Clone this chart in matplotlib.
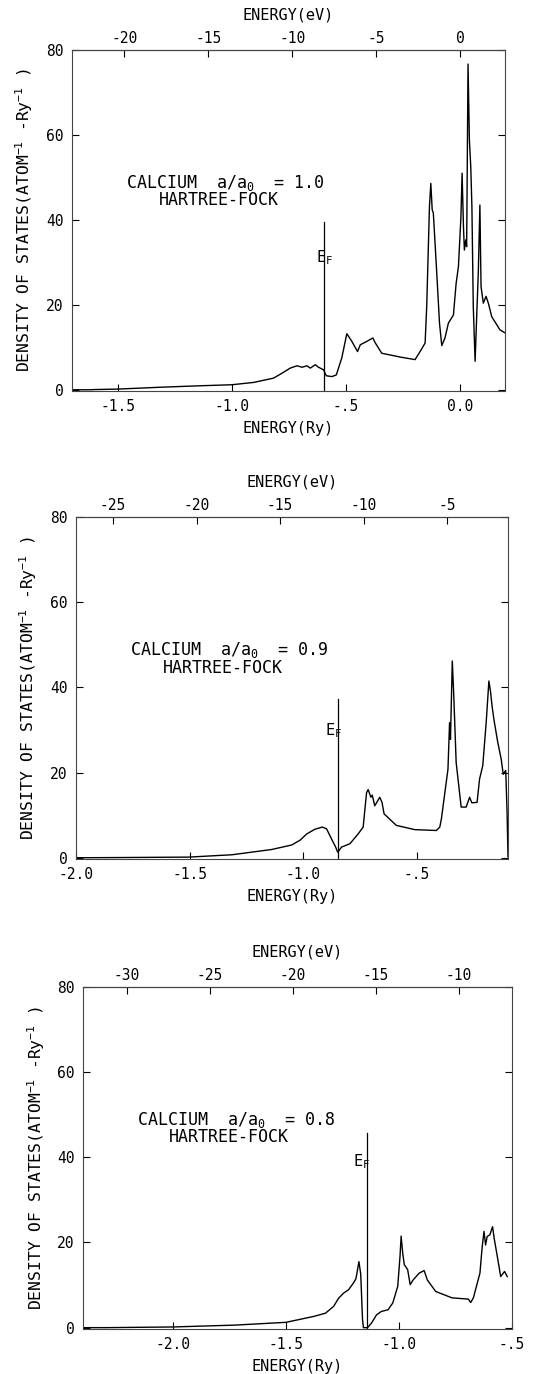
import matplotlib
matplotlib.use("Agg")
import matplotlib.pyplot as plt

plt.rcParams["font.family"] = ["DejaVu Sans Mono"]
plt.rcParams["mathtext.fontset"] = "custom"
plt.rcParams["mathtext.rm"] = "DejaVu Sans Mono"
plt.rcParams["mathtext.it"] = "DejaVu Sans Mono"

RY_TO_EV = 13.6057

# density of states, a/a0 = 1.0
e_10 = [-1.70, -1.62, -1.60, -1.50, -1.31, -1.14, -1.00, -0.904, -0.817, -0.78,
        -0.744, -0.714, -0.692, -0.671, -0.656, -0.634, -0.62, -0.598, -0.586,
        -0.561, -0.542, -0.518, -0.496, -0.474, -0.449, -0.437, -0.408, -0.382,
        -0.372, -0.343, -0.262, -0.197, -0.175, -0.153, -0.146, -0.134, -0.128,
        -0.122, -0.117, -0.102, -0.090, -0.080, -0.066, -0.051, -0.029, -0.017,
        -0.007, 0.004, 0.009, 0.015, 0.019, 0.025, 0.029, 0.035, 0.041, 0.047,
        0.052, 0.058, 0.066, 0.073, 0.080, 0.087, 0.092, 0.102, 0.114, 0.124,
        0.139, 0.175, 0.197]
d_10 = [0.0, 0.0, 0.05, 0.16, 0.6, 0.94, 1.18, 1.73, 2.74, 3.9,
        5.1, 5.65, 5.3, 5.65, 5.1, 5.9, 5.3, 4.7, 3.3,
        3.1, 3.5, 7.5, 13.2, 11.4, 9.0, 10.6, 11.4, 12.2,
        11.1, 8.6, 7.7, 7.1, 9.0, 11.0, 19.6, 43.1, 48.6,
        42.4, 41.6, 27.5, 15.7, 10.4, 12.2, 15.7, 17.6, 25.1,
        29.0, 40.8, 51.0, 38.4, 32.9, 35.3, 33.7, 76.7, 58.8, 52.5,
        43.1, 19.6, 6.7, 17.3, 27.5, 43.5, 24.3, 20.4, 22.0, 20.4,
        17.2, 14.1, 13.4]

# density of states, a/a0 = 0.9
e_09 = [-2.0, -1.987, -1.80, -1.504, -1.314, -1.139, -1.051, -1.015, -0.985,
        -0.949, -0.917, -0.898, -0.876, -0.858, -0.849, -0.832, -0.795, -0.759,
        -0.737, -0.722, -0.715, -0.703, -0.697, -0.686, -0.664, -0.654, -0.645,
        -0.591, -0.510, -0.415, -0.400, -0.393, -0.364, -0.357, -0.353, -0.345,
        -0.339, -0.328, -0.306, -0.284, -0.269, -0.259, -0.236, -0.225, -0.211,
        -0.196, -0.184, -0.177, -0.170, -0.162, -0.145, -0.130, -0.121, -0.110,
        -0.104, -0.100]
d_09 = [0.0, 0.0, 0.05, 0.15, 0.7, 1.94, 3.0, 4.1, 5.6,
        6.7, 7.2, 6.8, 4.4, 2.5, 1.3, 2.5, 3.3, 5.6,
        7.2, 15.3, 16.0, 14.2, 14.7, 12.2, 14.2, 13.0, 10.3,
        7.6, 6.6, 6.4, 7.2, 9.1, 20.8, 31.7, 27.8, 46.2,
        38.8, 22.4, 11.9, 11.9, 14.2, 12.9, 13.0, 18.5, 21.6,
        31.7, 41.5, 39.1, 35.6, 32.5, 27.1, 23.2, 19.6, 20.5,
        10.7, 0.2]

# density of states, a/a0 = 0.8
e_08 = [-2.40, -2.30, -2.003, -1.726, -1.501, -1.377, -1.326, -1.290, -1.268,
        -1.246, -1.224, -1.202, -1.191, -1.178, -1.170, -1.162, -1.158, -1.140,
        -1.122, -1.100, -1.079, -1.049, -1.028, -1.006, -0.996, -0.991, -0.984,
        -0.977, -0.962, -0.951, -0.938, -0.911, -0.889, -0.875, -0.838, -0.766,
        -0.693, -0.683, -0.671, -0.642, -0.632, -0.624, -0.617, -0.610, -0.598,
        -0.586, -0.579, -0.565, -0.550, -0.533, -0.521]
d_08 = [0.0, 0.0, 0.16, 0.6, 1.25, 2.65, 3.4, 5.0, 6.9,
        8.1, 8.9, 10.5, 11.5, 15.5, 12.6, 1.9, 0.0, 0.0,
        1.1, 3.0, 3.8, 4.2, 5.8, 9.7, 16.7, 21.5, 17.5,
        14.8, 13.6, 10.1, 11.2, 12.8, 13.4, 11.2, 8.5, 7.0,
        6.7, 5.9, 7.0, 12.8, 19.0, 22.6, 19.4, 21.4, 21.8,
        23.7, 21.0, 16.7, 12.0, 13.2, 12.0]

lattice = ["1.0", "0.9", "0.8"]
fermi = [-0.595, -0.849, -1.144]
fermi_top = [39.5, 37.2, 45.7]

ry_ticks = [[-1.5, -1.0, -0.5, 0.0], [-2.0, -1.5, -1.0, -0.5], [-2.0, -1.5, -1.0, -0.5]]
ry_labels = [["-1.5", "-1.0", "-.5", "0.0"], ["-2.0", "-1.5", "-1.0", "-.5"],
             ["-2.0", "-1.5", "-1.0", "-.5"]]
ev_ticks = [[-20, -15, -10, -5, 0], [-25, -20, -15, -10, -5], [-30, -25, -20, -15, -10]]
dos_ticks = [0, 20, 40, 60, 80]

energies = [e_10, e_09, e_08]
dos = [d_10, d_09, d_08]

# layout of each panel (figure fractions) and its energy window
rects = [[0.1348, 0.7154, 0.8109, 0.2482],
         [0.1423, 0.3748, 0.8090, 0.2489],
         [0.1554, 0.0328, 0.8034, 0.2489]]
xlims = [(-1.70, 0.197), (-2.0, -0.10), (-2.40, -0.521)]
ef_label = [(0.0, 30.1), (-0.018, 28.7), (-0.022, 37.8)]

fig = plt.figure(figsize=(5.34, 13.74), dpi=100)

for i in range(3):
    ax = fig.add_axes(rects[i])
    ax.plot(energies[i], dos[i], color="black", lw=1.0)
    ax.plot([fermi[i], fermi[i]], [0, fermi_top[i]], color="black", lw=0.9)
    ax.text(fermi[i] + ef_label[i][0], ef_label[i][1], r"E$_\mathregular{F}$",
            ha="center", va="baseline", fontsize=11)

    ax.text(0.125, 0.61, "CALCIUM  a/a$_\\mathregular{0}$  = " + lattice[i],
            transform=ax.transAxes, fontsize=12, va="center")
    ax.text(0.20, 0.56, "HARTREE-FOCK", transform=ax.transAxes, fontsize=12,
            va="center")

    ax.set_xlim(*xlims[i])
    ax.set_ylim(-0.3, 80)
    ax.set_xticks(ry_ticks[i], labels=ry_labels[i])
    ax.set_yticks(dos_ticks)
    ax.tick_params(axis="both", direction="in", length=5, width=0.8,
                   labelsize=10.5, pad=6)
    ax.tick_params(axis="y", right=True, pad=6)
    for s in ax.spines.values():
        s.set_color("#444444")
        s.set_linewidth(0.8)

    sec = ax.secondary_xaxis("top", functions=(lambda r: r * RY_TO_EV,
                                               lambda e: e / RY_TO_EV))
    sec.set_xticks(ev_ticks[i], labels=[str(t) for t in ev_ticks[i]])
    sec.tick_params(direction="in", length=5, width=0.8, labelsize=10.5, pad=3)
    sec.set_xlabel("ENERGY(eV)", fontsize=11, labelpad=8)

    ax.set_xlabel("ENERGY(Ry)", fontsize=11, labelpad=5)
    ax.set_ylabel(r"DENSITY OF STATES(ATOM$^\mathregular{-1}$ -Ry$^\mathregular{-1}$ )",
                  fontsize=11.8)
    ax.yaxis.set_label_coords(-0.085, 0.5)

fig.savefig("out.png", dpi=100, facecolor="white")
